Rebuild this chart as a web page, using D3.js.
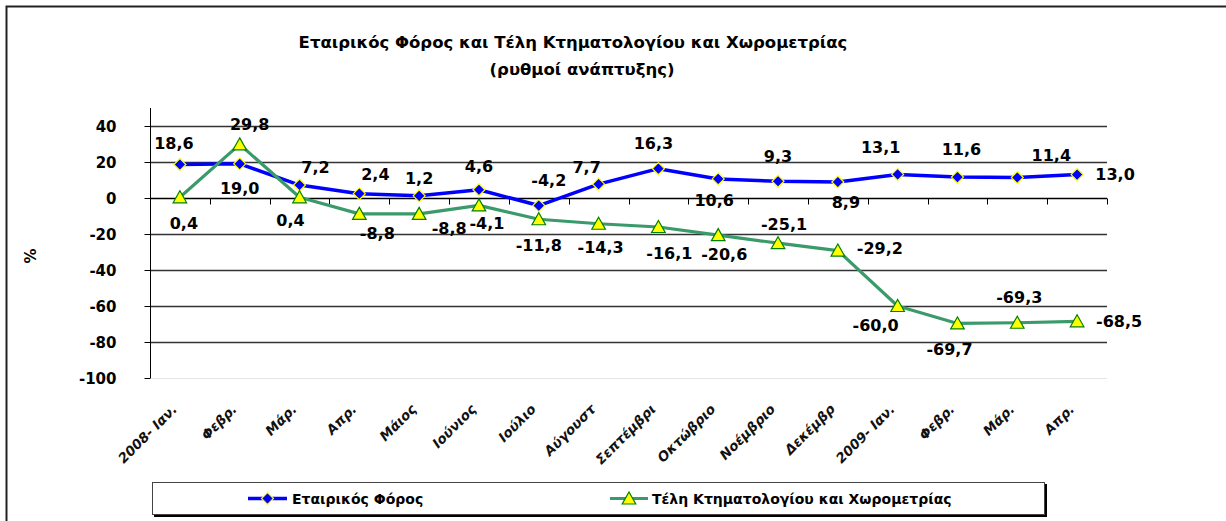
<!DOCTYPE html>
<html>
<head>
<meta charset="utf-8">
<script src="https://cdn.jsdelivr.net/npm/d3@7"></script>
<style>
  html, body { margin: 0; padding: 0; background: #fff; }
  svg { display: block; }
  text { font-family: "DejaVu Sans", sans-serif; }
</style>
</head>
<body>
<svg id="chart" width="1226" height="521"></svg>
<script>
// ---------- data ----------
const categories = ["2008- Ιαν.", "Φεβρ.", "Μάρ.", "Απρ.", "Μάιος", "Ιούνιος", "Ιούλιο", "Αύγουστ",
  "Σεπτέμβρι", "Οκτώβριο", "Νοέμβριο", "Δεκέμβρ", "2009- Ιαν.", "Φεβρ.", "Μάρ.", "Απρ."];
const seriesNames = ["Εταιρικός Φόρος", "Τέλη Κτηματολογίου και Χωρομετρίας"];
const corporateTax = [18.6, 19.0, 7.2, 2.4, 1.2, 4.6, -4.2, 7.7, 16.3, 10.6, 9.3, 8.9, 13.1, 11.6, 11.4, 13.0];
const landRegistryFees = [0.4, 29.8, 0.4, -8.8, -8.8, -4.1, -11.8, -14.3, -16.1, -20.6, -25.1, -29.2, -60.0, -69.7, -69.3, -68.5];
const yTicks = [-100, -80, -60, -40, -20, 0, 20, 40];
const titleLines = ["Εταιρικός Φόρος και Τέλη Κτηματολογίου και Χωρομετρίας", "(ρυθμοί ανάπτυξης)"];
const yAxisTitle = "%";

// label placement offsets (dx, dy of label centre from its point)
const corporateLabelOffsets = [[-6,-21],[0,24],[16,-18],[16,-19],[0,-18],[0,-23],[10,-25],[-12,-17],
  [-5,-25],[-4,21],[0,-25],[8,20],[-17,-27],[4,-28],[34,-22],[38,0]];
const feesLabelOffsets = [[4,26],[10,-20],[-9,23],[18,19],[30,14],[8,18],[0,26],[2,23],
  [11,26],[6,19],[6,-19],[42,-2],[-22,19],[-8,26],[2,-26],[42,0]];

// ---------- layout ----------
const svg = d3.select("#chart");
const plot = { left: 150, right: 1107, top: 108, bottom: 378 };

const x = d3.scaleBand().domain(d3.range(categories.length)).range([plot.left, plot.right]).padding(0);
const y = d3.scaleLinear().domain([-100, 50]).range([plot.bottom, plot.top]);
const cx = i => x(i) + x.bandwidth() / 2;
const fmt = v => d3.format(".1f")(v).replace(".", ",").replace("\u2212", "-");

// outer chart border (extends beyond the visible frame)
svg.append("rect").attr("x", 6.5).attr("y", 6.5).attr("width", 1260).attr("height", 560)
  .attr("fill", "none").attr("stroke", "#222").attr("stroke-width", 2);

// title
svg.append("text").attr("x", 573).attr("y", 48).attr("text-anchor", "middle")
  .attr("font-size", 16.5).attr("font-weight", "bold").text(titleLines[0]);
svg.append("text").attr("x", 582).attr("y", 75).attr("text-anchor", "middle")
  .attr("font-size", 16.5).attr("font-weight", "bold").text(titleLines[1]);

// gridlines
svg.append("g").selectAll("line").data(yTicks.filter(t => t !== 0)).join("line")
  .attr("x1", plot.left).attr("x2", plot.right)
  .attr("y1", d => Math.round(y(d)) + 0.5).attr("y2", d => Math.round(y(d)) + 0.5)
  .attr("stroke", d => d === -100 ? "#e6e6e6" : "#333").attr("stroke-width", d => d === -100 ? 1 : 1.3);

// y axis
const yAxis = d3.axisLeft(y).tickValues(yTicks).tickSize(6).tickFormat(d => String(d));
const gy = svg.append("g").attr("transform", `translate(${plot.left + 0.5},0)`).call(yAxis);
gy.select(".domain").attr("stroke", "#000").attr("d", `M0,${plot.top}V${plot.bottom}`);
gy.selectAll(".tick line").attr("stroke", "#000");
gy.selectAll(".tick text").attr("font-size", 15).attr("font-weight", "bold").attr("fill", "#000")
  .attr("x", -34).attr("dy", "0.35em").attr("font-family", "DejaVu Sans");

// y axis title
svg.append("text").attr("transform", `translate(36,256) rotate(-90)`).attr("text-anchor", "middle")
  .attr("font-size", 15).attr("font-weight", "bold").text(yAxisTitle);

// x axis at zero with boundary ticks
const y0 = Math.round(y(0)) + 0.5;
svg.append("line").attr("x1", plot.left).attr("x2", plot.right).attr("y1", y0).attr("y2", y0)
  .attr("stroke", "#000").attr("stroke-width", 1.3);
const boundaries = d3.range(categories.length + 1).map(i => i === categories.length ? plot.right : x(i));
svg.append("g").selectAll("line").data(boundaries).join("line")
  .attr("x1", d => Math.round(d) + 0.5).attr("x2", d => Math.round(d) + 0.5)
  .attr("y1", y0).attr("y2", y0 + 6).attr("stroke", "#000");

// x category labels (rotated)
svg.append("g").selectAll("text").data(categories).join("text")
  .attr("transform", (d, i) => `translate(${cx(i) - 2},${plot.bottom + 32}) rotate(-45)`)
  .attr("text-anchor", "end").attr("font-size", 13.5).attr("font-weight", "bold")
  .attr("font-style", "italic").attr("fill", "#111").text(d => d);

// ---------- series ----------
const line = d3.line().x((d, i) => cx(i)).y(d => y(d));

svg.append("path").datum(corporateTax).attr("d", line).attr("fill", "none")
  .attr("stroke", "#0000ff").attr("stroke-width", 3.5).attr("stroke-linejoin", "round");
const diamond = "M0,-6L6,0L0,6L-6,0Z";
svg.append("g").selectAll("path").data(corporateTax).join("path")
  .attr("transform", (d, i) => `translate(${cx(i)},${y(d)})`).attr("d", diamond)
  .attr("fill", "#0000ff").attr("stroke", "#ffff00").attr("stroke-width", 1.2);

svg.append("path").datum(landRegistryFees).attr("d", line).attr("fill", "none")
  .attr("stroke", "#3a9a6a").attr("stroke-width", 3.2).attr("stroke-linejoin", "round");
const triangle = "M0,-6.5L6.8,5.5L-6.8,5.5Z";
svg.append("g").selectAll("path").data(landRegistryFees).join("path")
  .attr("transform", (d, i) => `translate(${cx(i)},${y(d)})`).attr("d", triangle)
  .attr("fill", "#ffff00").attr("stroke", "#008000").attr("stroke-width", 1.2);

// data labels
function addLabels(values, offsets) {
  svg.append("g").selectAll("text").data(values).join("text")
    .attr("x", (d, i) => cx(i) + offsets[i][0])
    .attr("y", (d, i) => y(d) + offsets[i][1])
    .attr("dy", "0.36em").attr("text-anchor", "middle")
    .attr("font-size", 16).attr("font-weight", "bold").attr("fill", "#000")
    .text(d => fmt(d));
}
addLabels(corporateTax, corporateLabelOffsets);
addLabels(landRegistryFees, feesLabelOffsets);

// ---------- legend ----------
const lg = svg.append("g");
lg.append("rect").attr("x", 154).attr("y", 484).attr("width", 893).attr("height", 33).attr("fill", "#000");
lg.append("rect").attr("x", 152.5).attr("y", 482.5).attr("width", 892).attr("height", 32)
  .attr("fill", "#fff").attr("stroke", "#444").attr("stroke-width", 1);

const legendItems = [
  { name: seriesNames[0], x1: 248, x2: 287, tx: 292, color: "#0000ff", w: 3.5, marker: diamond, fill: "#0000ff", mstroke: "#ffff00" },
  { name: seriesNames[1], x1: 610, x2: 648, tx: 652, color: "#3a9a6a", w: 3.2, marker: triangle, fill: "#ffff00", mstroke: "#008000" }
];
legendItems.forEach(it => {
  lg.append("line").attr("x1", it.x1).attr("x2", it.x2).attr("y1", 498.5).attr("y2", 498.5)
    .attr("stroke", it.color).attr("stroke-width", it.w);
  lg.append("path").attr("transform", `translate(${(it.x1 + it.x2) / 2},498.5)`).attr("d", it.marker)
    .attr("fill", it.fill).attr("stroke", it.mstroke).attr("stroke-width", 1.2);
  lg.append("text").attr("x", it.tx).attr("y", 499).attr("dy", "0.36em")
    .attr("font-size", 14).attr("font-weight", "bold").text(it.name);
});
</script>
</body>
</html>
